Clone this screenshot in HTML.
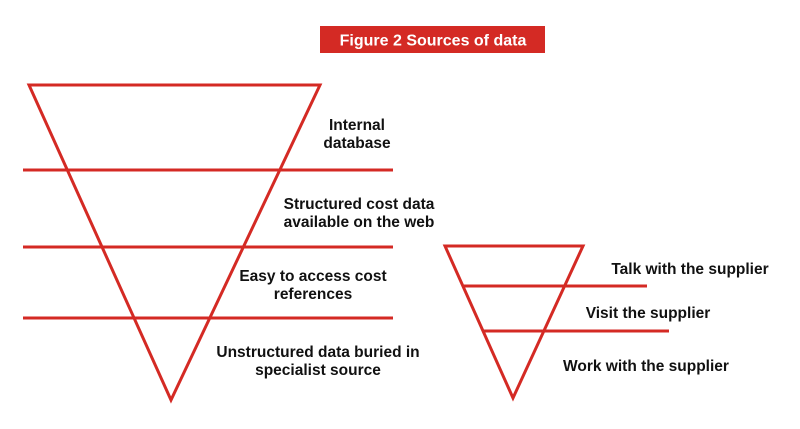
<!DOCTYPE html>
<html><head><style>
body{margin:0;width:800px;height:424px;background:#fff;overflow:hidden;font-family:"Liberation Sans",sans-serif}
</style></head><body>
<svg width="800" height="424" xmlns="http://www.w3.org/2000/svg">
<rect x="320" y="26" width="225" height="27" fill="#d42a24"/>
<text x="433" y="45.5" fill="#fff" font-size="16" font-weight="bold" text-anchor="middle" font-family="Liberation Sans,sans-serif">Figure 2 Sources of data</text>
<g stroke="#d42a24" stroke-width="3" fill="none">
<polygon points="29,85 320,85 171,400" stroke-linejoin="miter"/>
<line x1="23" y1="170" x2="393" y2="170"/>
<line x1="23" y1="247" x2="393" y2="247"/>
<line x1="23" y1="318" x2="393" y2="318"/>
<polygon points="445,246 583,246 513,398"/>
<line x1="464" y1="286" x2="647" y2="286"/>
<line x1="484" y1="331" x2="669" y2="331"/>
</g>
<g font-family="Liberation Sans,sans-serif" font-size="15.5" font-weight="bold" fill="#111" text-anchor="middle">
<text x="357" y="130">Internal</text>
<text x="357" y="148">database</text>
<text x="359" y="209">Structured cost data</text>
<text x="359" y="227">available on the web</text>
<text x="313" y="281">Easy to access cost</text>
<text x="313" y="299">references</text>
<text x="318" y="357">Unstructured data buried in</text>
<text x="318" y="375">specialist source</text>
<text x="690" y="274">Talk with the supplier</text>
<text x="648" y="318">Visit the supplier</text>
<text x="646" y="371">Work with the supplier</text>
</g>
</svg>
</body></html>
